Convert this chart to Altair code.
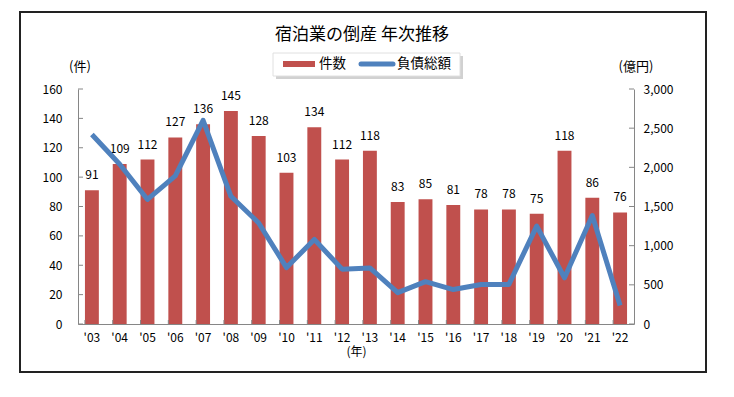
import altair as alt
import pandas as pd

years = ["'03", "'04", "'05", "'06", "'07", "'08", "'09", "'10", "'11", "'12",
         "'13", "'14", "'15", "'16", "'17", "'18", "'19", "'20", "'21", "'22"]
counts = [91, 109, 112, 127, 136, 145, 128, 103, 134, 112,
          118, 83, 85, 81, 78, 78, 75, 118, 86, 76]
debt = [2420, 2040, 1590, 1890, 2600, 1630, 1290, 720, 1080, 700,
        715, 400, 540, 440, 505, 505, 1250, 590, 1385, 235]
left_ticks = [0, 20, 40, 60, 80, 100, 120, 140, 160]
right_ticks = [0, 500, 1000, 1500, 2000, 2500, 3000]

df = pd.DataFrame({"year": years, "count": counts, "debt": debt})
lt = pd.DataFrame({"v": left_ticks})
rt = pd.DataFrame({"v": right_ticks})
one = alt.Data(values=[{}])

FONT = "Noto Sans CJK JP"
RED = "#C0504D"
BLUE = "#4F81BD"
AX = "#868686"

xscale = alt.Scale(paddingInner=0.5, paddingOuter=0.25)
xaxis = alt.Axis(title="(年)", labelAngle=0, labelFontSize=12, titleFontSize=12,
                 titleFontWeight="normal", labelPadding=8, titlePadding=3,
                 domainColor=AX, tickSize=0, labelColor="#000", titleColor="#000",
                 labelFont=FONT, titleFont=FONT)
X = alt.X("year:N", sort=years, scale=xscale, axis=xaxis)

yl_scale = alt.Scale(domain=[0, 160], nice=False)
yl_axis = alt.Axis(title=None, values=left_ticks, grid=False, tickSize=0,
                   labelPadding=16, domainColor=AX, labelFontSize=12,
                   labelColor="#000", labelFont=FONT)
yr_scale = alt.Scale(domain=[0, 3000], nice=False)
yr_axis = alt.Axis(title=None, orient="right", values=right_ticks,
                   labelExpr="format(datum.value, ',')",
                   grid=False, tickSize=0, labelPadding=9, domainColor=AX,
                   labelFontSize=12, labelColor="#000", labelFont=FONT)

bars = alt.Chart(df).mark_bar(color=RED).encode(
    x=X, y=alt.Y("count:Q", scale=yl_scale, axis=yl_axis))
labels = alt.Chart(df).mark_text(baseline="bottom", dy=-8, fontSize=12, font=FONT,
                                 color="#000").encode(
    x=X, y=alt.Y("count:Q", scale=yl_scale, axis=yl_axis), text="count:Q")
lticks = alt.Chart(lt).mark_rule(color=AX).encode(
    x=alt.value(0), x2=alt.value(5), y=alt.Y("v:Q", scale=yl_scale, axis=yl_axis))
xticks = alt.Chart(df).mark_rule(color=AX).encode(
    x=alt.X("year:N", sort=years, scale=xscale, axis=xaxis, bandPosition=0),
    y=alt.value(235), y2=alt.value(231))
left = alt.layer(bars, labels, lticks, xticks)

line = alt.Chart(df).mark_line(color=BLUE, strokeWidth=5, strokeJoin="round").encode(
    x=X, y=alt.Y("debt:Q", scale=yr_scale, axis=yr_axis))
rticks = alt.Chart(rt).mark_rule(color=AX).encode(
    x=alt.value(551), x2=alt.value(556), y=alt.Y("v:Q", scale=yr_scale, axis=yr_axis))
right = alt.layer(line, rticks)

border = alt.Chart(one).mark_rect(fill=None, stroke="#222", strokeWidth=2).encode(
    x=alt.value(-58), x2=alt.value(628), y=alt.value(-77), y2=alt.value(283))
title = alt.Chart(one).mark_text(fontSize=17, font=FONT, color="#000").encode(
    x=alt.value(284), y=alt.value(-54), text=alt.value("宿泊業の倒産 年次推移"))
shadow = alt.Chart(one).mark_rect(fill="#999", opacity=0.45).encode(
    x=alt.value(198), x2=alt.value(385), y=alt.value(-33), y2=alt.value(-10))
lbox = alt.Chart(one).mark_rect(fill="white", stroke="#e0e0e0").encode(
    x=alt.value(195), x2=alt.value(382), y=alt.value(-36), y2=alt.value(-13))
lred = alt.Chart(one).mark_rect(fill=RED).encode(
    x=alt.value(205), x2=alt.value(237), y=alt.value(-28), y2=alt.value(-22))
lred_t = alt.Chart(one).mark_text(align="left", fontSize=13.5, font=FONT, color="#000").encode(
    x=alt.value(241), y=alt.value(-25), text=alt.value("件数"))
lblue = alt.Chart(one).mark_rule(color=BLUE, strokeWidth=5, strokeCap="round").encode(
    x=alt.value(283), x2=alt.value(315), y=alt.value(-25))
lblue_t = alt.Chart(one).mark_text(align="left", fontSize=13.5, font=FONT, color="#000").encode(
    x=alt.value(319), y=alt.value(-25), text=alt.value("負債総額"))
unit_l = alt.Chart(one).mark_text(fontSize=13, font=FONT, color="#000").encode(
    x=alt.value(2), y=alt.value(-22), text=alt.value("(件)"))
unit_r = alt.Chart(one).mark_text(fontSize=13, font=FONT, color="#000").encode(
    x=alt.value(558), y=alt.value(-22), text=alt.value("(億円)"))

main = alt.layer(left, right).resolve_scale(y="independent")

chart = alt.layer(
    main, border, title, shadow, lbox, lred, lred_t, lblue, lblue_t, unit_l, unit_r
).properties(
    width=556, height=235,
    padding={"left": 70, "top": 81, "right": 90, "bottom": 62},
    autosize=alt.AutoSizeParams(type="none"),
    background="white",
).configure_view(stroke=None)

chart.save("out.html", embed_options={"renderer": "svg", "actions": False})
